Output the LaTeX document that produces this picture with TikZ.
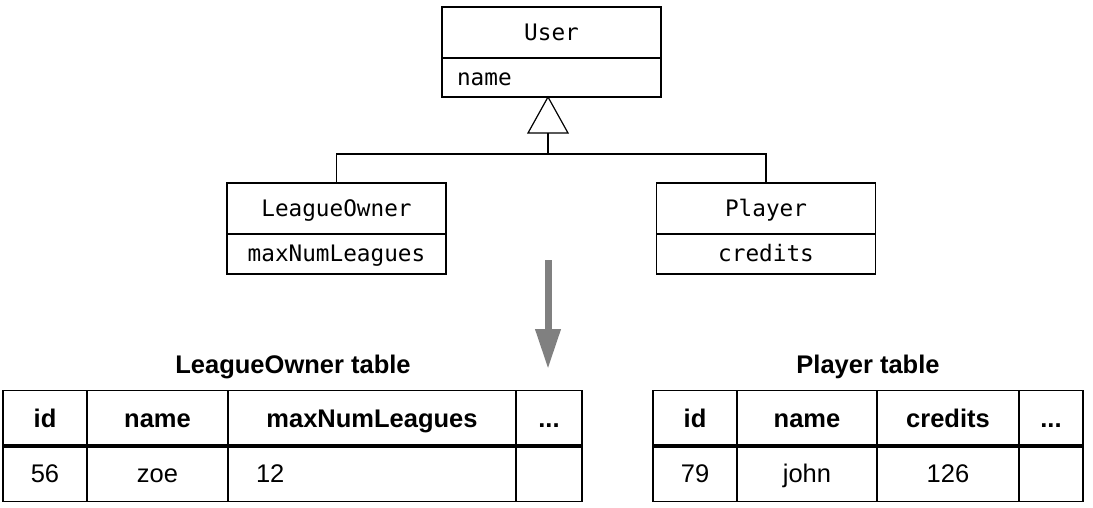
\documentclass[tikz,border=0pt]{standalone}
\usepackage{fontspec}
\usetikzlibrary{positioning,arrows.meta}
\newfontfamily\umlfont{DejaVu Sans Mono}
\newfontfamily\tabfont{Liberation Sans}
\newcommand{\umlsize}{\umlfont\fontsize{22.7}{26}\selectfont}
\newcommand{\tabsize}{\tabfont\fontsize{25.5}{30}\selectfont}

\tikzset{
  classname/.style={draw, line width=1.2pt, outer sep=0pt, inner sep=0pt,
    minimum width=219pt, minimum height=51pt, text height=17.5pt, text depth=2.5pt,
    font=\umlsize},
  classattr/.style={classname, minimum height=40pt},
  cell/.style={draw, line width=1.4pt, outer sep=0pt, inner sep=0pt,
    minimum height=55.5pt, text height=21pt, text depth=3pt, font=\tabsize},
  headcell/.style={cell, font=\tabsize\bfseries},
  tabtitle/.style={font=\tabsize\bfseries, inner sep=0pt},
}

\begin{document}
\begin{tikzpicture}[x=1pt, y=-1pt]
  \useasboundingbox (0,0) rectangle (1093,507);
  % class diagram
  \node[classname] (user) at (551.5,32.5) {User};
  \node[classattr, below=0 of user, minimum height=39pt, text width=189pt, align=left, inner xsep=15pt] (username) {name};
  \node[classname] (owner) at (336.5,208.5) {LeagueOwner};
  \node[classattr, below=0 of owner] (ownerattr) {maxNumLeagues};
  \node[classname] (player) at (766,208.5) {Player};
  \node[classattr, below=0 of player] (playerattr) {credits};
  \coordinate (tip) at (548,97);
  \coordinate (fork) at (548,154);
  \draw[line width=1.2pt, fill=white] (tip) -- (568,133) -- (528,133) -- cycle;
  \draw[line width=1.2pt] (548,133) -- (fork);
  \draw[line width=1.2pt] (owner.north) |- (fork) -| (player.north);

  % mapping arrow
  \coordinate (mapfrom) at (548,260);
  \coordinate (mapto) at (548,369);
  \draw[line width=7pt, gray, -{Triangle[width=24pt, length=40pt]}] (mapfrom) -- (mapto);

  % LeagueOwner table
  \node[tabtitle] (lotitle) at (293,367) {LeagueOwner table};
  \node[headcell, minimum width=84pt] (lo1) at (45,418) {id};
  \node[headcell, minimum width=141pt, right=0 of lo1] (lo2) {name};
  \node[headcell, minimum width=288pt, right=0 of lo2] (lo3) {maxNumLeagues};
  \node[headcell, minimum width=66pt, right=0 of lo3] (lo4) {...};
  \node[cell, minimum width=84pt, below=0 of lo1] (lo5) {56};
  \node[cell, minimum width=141pt, below=0 of lo2] (lo6) {zoe};
  \node[cell, minimum width=288pt, text width=232pt, align=left, below=0 of lo3] (lo7) {12};
  \node[cell, minimum width=66pt, below=0 of lo4] (lo8) {};
  \draw[line width=4.5pt] (lo1.south west) -- (lo4.south east);

  % Player table
  \node[tabtitle] (pltitle) at (868,367) {Player table};
  \node[headcell, minimum width=84pt] (pl1) at (695,418) {id};
  \node[headcell, minimum width=140pt, right=0 of pl1] (pl2) {name};
  \node[headcell, minimum width=142pt, right=0 of pl2] (pl3) {credits};
  \node[headcell, minimum width=64pt, right=0 of pl3] (pl4) {...};
  \node[cell, minimum width=84pt, below=0 of pl1] (pl5) {79};
  \node[cell, minimum width=140pt, below=0 of pl2] (pl6) {john};
  \node[cell, minimum width=142pt, below=0 of pl3] (pl7) {126};
  \node[cell, minimum width=64pt, below=0 of pl4] (pl8) {};
  \draw[line width=4.5pt] (pl1.south west) -- (pl4.south east);
\end{tikzpicture}
\end{document}
